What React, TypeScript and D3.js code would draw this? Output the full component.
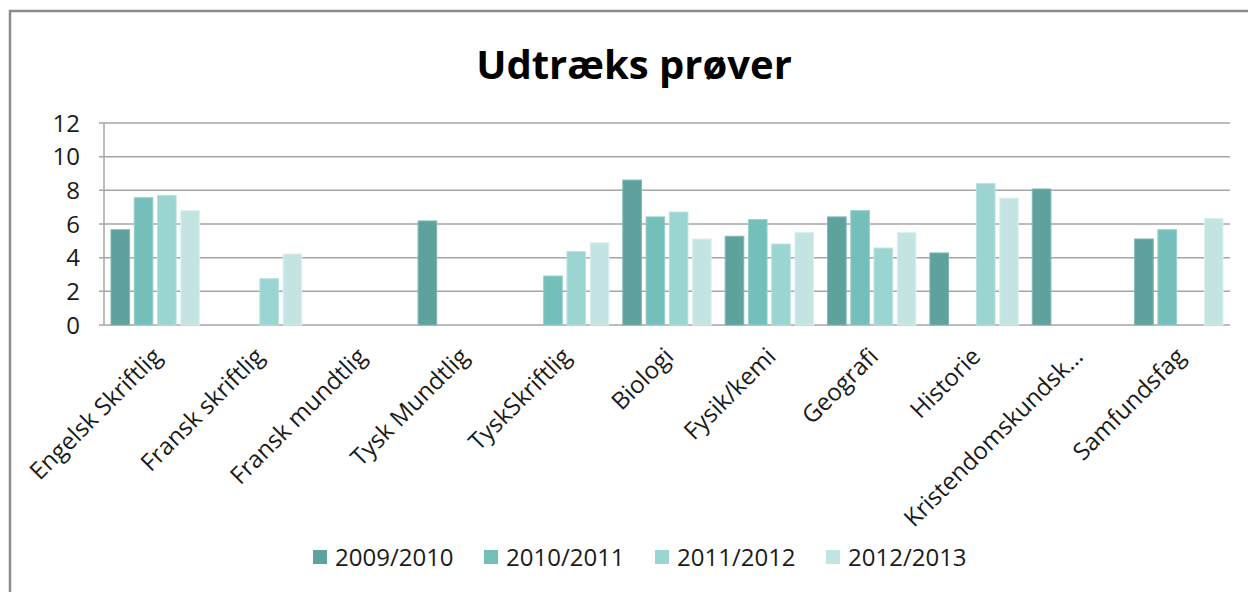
import * as d3 from "d3"
import { useEffect, useRef } from "react"

const categories = [
  "Engelsk Skriftlig",
  "Fransk skriftlig",
  "Fransk mundtlig",
  "Tysk Mundtlig",
  "TyskSkriftlig",
  "Biologi",
  "Fysik/kemi",
  "Geografi",
  "Historie",
  "Kristendomskundsk…",
  "Samfundsfag",
]

const seriesNames = ["2009/2010", "2010/2011", "2011/2012", "2012/2013"]

// null = no bar
const s2009 = [5.66, null, null, 6.18, null, 8.61, 5.27, 6.42, 4.28, 8.08, 5.11]
const s2010 = [7.56, null, null, null, 2.91, 6.42, 6.26, 6.79, null, null, 5.66]
const s2011 = [7.7, 2.75, null, null, 4.36, 6.71, 4.81, 4.57, 8.4, null, null]
const s2012 = [6.79, 4.22, null, null, 4.89, 5.11, 5.5, 5.5, 7.54, null, 6.34]

const yTicks = [0, 2, 4, 6, 8, 10, 12]

const colors = ["#5fa19d", "#74bfba", "#9bd5d2", "#c3e4e2"]
const strokes = ["#7fb7b3", "#94d0cc", "#b7e2e0", "#dcf0ef"]

export default function App() {
  const ref = useRef<SVGSVGElement>(null)

  useEffect(() => {
    document.body.style.margin = "0"
    const svg = d3.select(ref.current)
    svg.selectAll("*").remove()

    const font = "'Open Sans', 'Noto Sans', sans-serif"
    const margin = { top: 123, left: 104, right: 18, bottom: 267 }
    const width = 1248 - margin.left - margin.right
    const height = 592 - margin.top - margin.bottom

    const series = [s2009, s2010, s2011, s2012]

    // outer chart border (cut off at right and bottom)
    svg.append("path")
      .attr("d", "M10,600V11H1250")
      .attr("fill", "none")
      .attr("stroke", "#8c8c8c")
      .attr("stroke-width", 2.5)

    svg.append("text")
      .attr("x", 634)
      .attr("y", 79)
      .attr("text-anchor", "middle")
      .attr("font-family", font)
      .attr("font-weight", "bold")
      .attr("font-size", 40)
      .attr("fill", "#000")
      .text("Udtræks prøver")

    const g = svg.append("g")
      .attr("transform", "translate(" + margin.left + "," + margin.top + ")")

    const x0 = d3.scaleBand().domain(categories).range([0, width]).padding(0)
    const x1 = d3.scaleBand<number>()
      .domain([0, 1, 2, 3])
      .range([7, x0.bandwidth() - 7])
      .paddingInner(0.2)
      .paddingOuter(0)
    const y = d3.scaleLinear().domain([0, 12]).range([height, 0])

    // gridlines + small outside ticks
    g.selectAll(".grid").data(yTicks)
      .enter().append("line")
      .attr("x1", -5)
      .attr("x2", width)
      .attr("y1", d => y(d))
      .attr("y2", d => y(d))
      .attr("stroke", "#a6a6a6")
      .attr("stroke-width", 1.5)

    g.append("line")
      .attr("x1", 0).attr("x2", 0)
      .attr("y1", 0).attr("y2", height)
      .attr("stroke", "#a6a6a6")
      .attr("stroke-width", 1.5)

    g.selectAll(".ylab").data(yTicks)
      .enter().append("text")
      .attr("x", -24)
      .attr("y", d => y(d))
      .attr("dy", "0.36em")
      .attr("text-anchor", "end")
      .attr("font-family", font)
      .attr("font-size", 24)
      .attr("fill", "#1a1a1a")
      .text(d => d)

    series.forEach((vals, si) => {
      g.selectAll(".bar" + si)
        .data(categories.map((c, i) => ({ c, v: vals[i] })).filter(d => d.v != null))
        .enter().append("rect")
        .attr("x", d => (x0(d.c) as number) + (x1(si) as number))
        .attr("width", x1.bandwidth())
        .attr("y", d => y(d.v as number))
        .attr("height", d => height - y(d.v as number))
        .attr("fill", colors[si])
        .attr("stroke", strokes[si])
        .attr("stroke-width", 1)
    })

    // rotated category labels
    g.selectAll(".xlab").data(categories)
      .enter().append("text")
      .attr("transform", d =>
        "translate(" + ((x0(d) as number) + x0.bandwidth() / 2 + 2) + "," + (height + 27) + ") rotate(-45)")
      .attr("dy", "0.35em")
      .attr("text-anchor", "end")
      .attr("font-family", font)
      .attr("font-size", 24)
      .attr("fill", "#1a1a1a")
      .text(d => d)

    // legend
    const legend = svg.append("g").attr("transform", "translate(313,550)")
    seriesNames.forEach((s, i) => {
      const lg = legend.append("g").attr("transform", "translate(" + i * 171 + ",0)")
      lg.append("rect")
        .attr("width", 14).attr("height", 14)
        .attr("fill", colors[i])
      lg.append("text")
        .attr("x", 22)
        .attr("y", 7)
        .attr("dy", "0.36em")
        .attr("font-family", font)
        .attr("font-size", 24)
        .attr("fill", "#1a1a1a")
        .text(s)
    })
  })

  return (
    <svg ref={ref} width={1248} height={592} style={{ display: "block", background: "#fff" }}></svg>
  )
}
